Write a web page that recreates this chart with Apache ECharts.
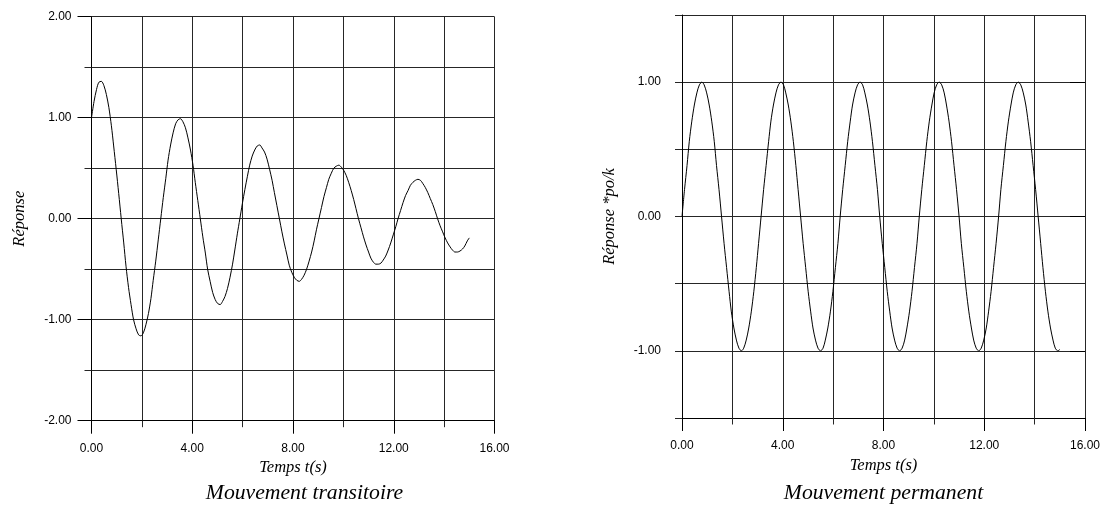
<!DOCTYPE html>
<html>
<head>
<meta charset="utf-8">
<script src="https://cdn.jsdelivr.net/npm/echarts@6/dist/echarts.min.js"></script>
<style>
  html, body { margin: 0; padding: 0; background: #fff; }
  #chart { width: 1104px; height: 507px; }
</style>
</head>
<body>
<div id="chart"></div>
<script>
// Sample instants (s) shared by both curves
const timeSec = [
  0.00,0.10,0.20,0.29,0.39,0.49,0.59,0.69,0.79,0.88,0.98,1.08,1.18,1.28,1.37,1.47,1.57,1.67,1.77,1.87,1.96,2.06,2.16,2.26,2.36,2.45,2.55,2.65,2.75,2.85,2.95,3.04,
  3.14,3.24,3.34,3.44,3.53,3.63,3.73,3.83,3.93,4.03,4.12,4.22,4.32,4.42,4.52,4.61,4.71,4.81,4.91,5.01,5.11,5.20,5.30,5.40,5.50,5.60,5.69,5.79,5.89,5.99,6.09,6.19,
  6.28,6.38,6.48,6.58,6.68,6.77,6.87,6.97,7.07,7.17,7.26,7.36,7.46,7.56,7.66,7.76,7.85,7.95,8.05,8.15,8.25,8.34,8.44,8.54,8.64,8.74,8.84,8.93,9.03,9.13,9.23,9.33,
  9.42,9.52,9.62,9.72,9.82,9.92,10.01,10.11,10.21,10.31,10.41,10.50,10.60,10.70,10.80,10.90,11.00,11.09,11.19,11.29,11.39,11.49,11.58,11.68,11.78,11.88,11.98,12.08,12.17,12.27,12.37,12.47,
  12.57,12.66,12.76,12.86,12.96,13.06,13.15,13.25,13.35,13.45,13.55,13.65,13.74,13.84,13.94,14.04,14.14,14.24,14.33,14.43,14.53,14.63,14.73,14.82,14.92,15.00];

// Transient (damped) response
const transientResp = [
  1.00,1.16,1.28,1.35,1.36,1.32,1.23,1.10,0.92,0.72,0.49,0.25,0.00,-0.24,-0.47,-0.68,-0.85,-1.00,-1.09,-1.15,-1.16,-1.13,-1.05,-0.94,-0.79,-0.61,-0.42,-0.21,0.00,0.21,0.40,0.58,
  0.73,0.85,0.94,0.98,0.99,0.96,0.90,0.80,0.68,0.53,0.36,0.18,0.00,-0.18,-0.34,-0.50,-0.62,-0.73,-0.80,-0.84,-0.85,-0.82,-0.77,-0.69,-0.58,-0.45,-0.31,-0.15,0.00,0.15,0.29,0.42,
  0.53,0.62,0.68,0.72,0.73,0.70,0.66,0.59,0.49,0.38,0.26,0.13,0.00,-0.13,-0.25,-0.36,-0.46,-0.53,-0.58,-0.61,-0.62,-0.60,-0.56,-0.50,-0.42,-0.33,-0.22,-0.11,0.00,0.11,0.22,0.31,
  0.39,0.45,0.50,0.52,0.53,0.51,0.48,0.43,0.36,0.28,0.19,0.10,0.00,-0.09,-0.18,-0.26,-0.33,-0.39,-0.43,-0.45,-0.45,-0.44,-0.41,-0.37,-0.31,-0.24,-0.16,-0.08,0.00,0.08,0.16,0.23,
  0.28,0.33,0.36,0.38,0.39,0.38,0.35,0.31,0.26,0.20,0.14,0.07,0.00,-0.07,-0.13,-0.19,-0.24,-0.28,-0.31,-0.33,-0.33,-0.32,-0.30,-0.27,-0.22,-0.19];

// Steady-state response (normalised by po/k)
const steadyResp = [
  0.00,0.20,0.38,0.56,0.71,0.83,0.92,0.98,1.00,0.98,0.92,0.83,0.71,0.56,0.38,0.20,0.00,-0.20,-0.38,-0.56,-0.71,-0.83,-0.92,-0.98,-1.00,-0.98,-0.92,-0.83,-0.71,-0.56,-0.38,-0.20,
  0.00,0.20,0.38,0.56,0.71,0.83,0.92,0.98,1.00,0.98,0.92,0.83,0.71,0.56,0.38,0.20,0.00,-0.20,-0.38,-0.56,-0.71,-0.83,-0.92,-0.98,-1.00,-0.98,-0.92,-0.83,-0.71,-0.56,-0.38,-0.20,
  0.00,0.20,0.38,0.56,0.71,0.83,0.92,0.98,1.00,0.98,0.92,0.83,0.71,0.56,0.38,0.20,0.00,-0.20,-0.38,-0.56,-0.71,-0.83,-0.92,-0.98,-1.00,-0.98,-0.92,-0.83,-0.71,-0.56,-0.38,-0.20,
  0.00,0.20,0.38,0.56,0.71,0.83,0.92,0.98,1.00,0.98,0.92,0.83,0.71,0.56,0.38,0.20,0.00,-0.20,-0.38,-0.56,-0.71,-0.83,-0.92,-0.98,-1.00,-0.98,-0.92,-0.83,-0.71,-0.56,-0.38,-0.20,
  0.00,0.20,0.38,0.56,0.71,0.83,0.92,0.98,1.00,0.98,0.92,0.83,0.71,0.56,0.38,0.20,0.00,-0.20,-0.38,-0.56,-0.71,-0.83,-0.92,-0.98,-1.00,-0.99];

const steadyLabelTicks = [-1, 0, 1];

const titles = ['Mouvement transitoire', 'Mouvement permanent'];
const xName = 'Temps t(s)';
const yNames = ['Réponse', 'Réponse *po/k'];

const pairs = (ys) => timeSec.map((t, i) => [t, ys[i]]);

const INK = '#000';
const GRID_INK = '#262626';
const sans = '"Liberation Sans", Arial, Helvetica, sans-serif';
const serif = '"Liberation Serif", "Times New Roman", Times, serif';

const tickLabel = { color: INK, fontFamily: sans, fontSize: 12 };
const nameStyle = { color: INK, fontFamily: serif, fontStyle: 'italic', fontSize: 16.5 };
const gridLine = { show: true, lineStyle: { color: GRID_INK, width: 1 } };
const axisLine = { show: true, onZero: false, lineStyle: { color: INK, width: 1 } };

function timeAxis(gridIndex, labelMargin) {
  return {
    type: 'value', gridIndex, min: 0, max: 16, interval: 4,
    name: xName, nameLocation: 'middle', nameGap: 37, nameTextStyle: nameStyle,
    axisLine,
    axisTick: { show: true, length: 13, lineStyle: { color: INK } },
    minorTick: { show: true, splitNumber: 2, length: 6.5, lineStyle: { color: GRID_INK } },
    splitLine: gridLine,
    minorSplitLine: gridLine,
    axisLabel: Object.assign({ margin: labelMargin, formatter: v => v.toFixed(2),
      showMinLabel: true, showMaxLabel: true, hideOverlap: false }, tickLabel)
  };
}

function curve(xi, yi, ys) {
  return {
    type: 'line', xAxisIndex: xi, yAxisIndex: yi, data: pairs(ys),
    smooth: 0.3, showSymbol: false, symbol: 'none',
    lineStyle: { color: INK, width: 1 }, z: 5
  };
}

const option = {
  animation: false,
  backgroundColor: '#fff',
  grid: [
    { left: 91.5, top: 16.7, width: 403, height: 404, containLabel: false, outerBoundsMode: 'none' },
    { left: 682, top: 15, width: 403, height: 403, containLabel: false, outerBoundsMode: 'none' }
  ],
  xAxis: [timeAxis(0, 22), timeAxis(1, 22)],
  yAxis: [
    {
      type: 'value', gridIndex: 0, min: -2, max: 2, interval: 1,
      name: yNames[0], nameLocation: 'middle', nameGap: 63, nameTextStyle: nameStyle,
      axisLine,
      axisTick: { show: true, length: 14, lineStyle: { color: INK } },
      minorTick: { show: true, splitNumber: 2, length: 7, lineStyle: { color: GRID_INK } },
      splitLine: gridLine,
      minorSplitLine: gridLine,
      axisLabel: Object.assign({ margin: 20, formatter: v => v.toFixed(2),
        showMinLabel: true, showMaxLabel: true }, tickLabel)
    },
    {
      type: 'value', gridIndex: 1, min: -1.5, max: 1.5, interval: 0.5,
      name: yNames[1], nameLocation: 'middle', nameGap: 64, nameTextStyle: nameStyle,
      axisLine,
      axisTick: { show: true, length: 7, lineStyle: { color: GRID_INK } },
      splitLine: gridLine,
      axisLabel: Object.assign({ margin: 21,
        formatter: v => (Math.abs(v - Math.round(v)) < 1e-9 ? v.toFixed(2) : ''),
        showMinLabel: true, showMaxLabel: true }, tickLabel)
    },
    {
      // longer ticks at the labelled values of the steady-state chart
      type: 'value', gridIndex: 1, min: -1.5, max: 1.5, position: 'right', offset: -403,
      axisLine: { show: false },
      axisTick: { show: true, inside: true, length: 15, customValues: steadyLabelTicks,
        lineStyle: { color: INK } },
      axisLabel: { show: false },
      splitLine: { show: false }
    }
  ],
  series: [curve(0, 0, transientResp), curve(1, 1, steadyResp)],
  graphic: [
    { type: 'text', x: 304.5, y: 493.3,
      style: { text: titles[0], fill: INK, font: 'italic 21.7px ' + serif,
        align: 'center', verticalAlign: 'middle', textAlign: 'center', textVerticalAlign: 'middle' } },
    { type: 'text', x: 883.5, y: 493.3,
      style: { text: titles[1], fill: INK, font: 'italic 21.7px ' + serif,
        align: 'center', verticalAlign: 'middle', textAlign: 'center', textVerticalAlign: 'middle' } }
  ]
};

const chart = echarts.init(document.getElementById('chart'), null, { renderer: 'canvas' });
chart.setOption(option);
</script>
</body>
</html>
